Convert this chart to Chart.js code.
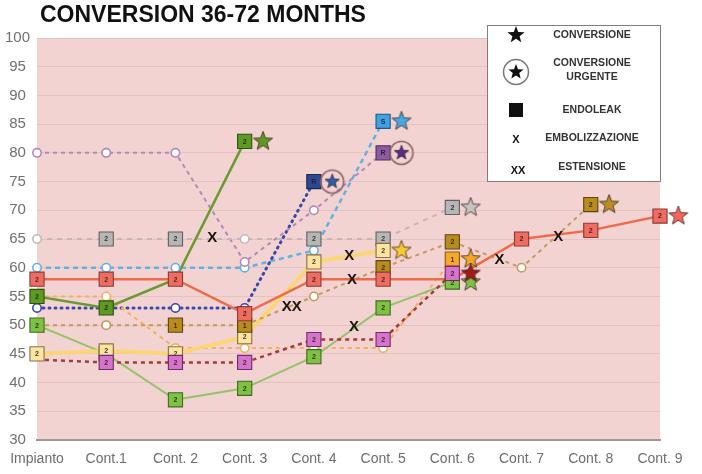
<!DOCTYPE html>
<html>
<head>
<meta charset="utf-8">
<script src="https://cdn.jsdelivr.net/npm/chart.js@4/dist/chart.umd.min.js"></script>
<style>
  html, body { margin: 0; padding: 0; background: #fff; }
  #wrap { position: relative; width: 702px; height: 474px; }
  #title { position: absolute; left: 40px; top: 3px; margin: 0; font: bold 23px "Liberation Sans", Arial, sans-serif; line-height: 23px; color: #111; }
  canvas { position: absolute; left: 0; top: 0; }
</style>
</head>
<body>
<div id="wrap">
  <canvas id="chart" width="702" height="474"></canvas>
  <h1 id="title">CONVERSION 36-72 MONTHS</h1>
</div>
<script>
// ---------------- data ----------------
const categories = ['Impianto', 'Cont.1', 'Cont. 2', 'Cont. 3', 'Cont. 4', 'Cont. 5', 'Cont. 6', 'Cont. 7', 'Cont. 8', 'Cont. 9'];
const yMin = 30, yMax = 100, yStep = 5;

// one array per patient, one value per control (marks: label in the square, 'o' = open circle, null = nothing)
const redValues    = [58, 58, 58, 52, 58, 58, 58, 65, 66.5, 69];
const redMarks     = ['2', '2', '2', '2', '2', '2', null, '2', '2', '2'];
const greenValues  = [55, 53, 58, 82];
const greenMarks   = ['2', '2', null, '2'];
const limeValues   = [50, 45, 37, 39, 44.5, 53, 57.5];
const limeMarks    = ['2', '2', '2', '2', '2', '2', '2'];
const purpleValues = [80, 80, 80, 61, 70, 80];
const purpleMarks  = ['o', 'o', 'o', 'o', 'o', 'R'];
const navyValues   = [53, 53, 53, 53, 75];
const navyMarks    = ['o', 'o', 'o', 'o', 'R'];
const skyValues    = [60, 60, 60, 60, 63, 85.5];
const skyMarks     = ['o', 'o', 'o', 'o', 'o', 'S'];
const greyValues   = [65, 65, 65, 65, 65, 65, 70.5];
const greyMarks    = ['o', '2', '2', 'o', '2', '2', '2'];
const yellowValues = [45, 45.5, 45, 48, 61, 63];
const yellowMarks  = ['2', '2', '2', '2', '2', '2'];
const brownValues  = [50, 50, 50, 50, 55, 60, 64.5, 60, 71];
const brownMarks   = [null, 'o', '1', '1', 'o', '2', '2', 'o', '2'];
const orangeValues = [55, 55, 46, 46, 46, 46, 61.5];
const orangeMarks  = [null, 'o', 'o', 'o', 'o', 'o', '1'];
const maroonValues = [44, 43.5, 43.5, 43.5, 47.5, 47.5, 59];
const maroonMarks  = [null, '2', '2', '2', '2', '2', '2'];

// conversion happens after the last control; urgent ones get a ring
const urgentConversions = ['purple', 'navy'];

// events between controls: [x in controls, value]
const embolizations = [[2.53, 65.2], [4.51, 62.1], [4.55, 57.9], [4.58, 49.7], [6.68, 61.4], [7.53, 65.4]];
const extensions    = [[3.68, 53.2]];

// ---------------- styles ----------------
const STAR_SHIFT = 0.265;
const styles = {
  maroon: { line: '#a43a3a', width: 2.5, dash: [4, 4], fill: '#d673cc', edge: '#6e2c68', star: '#a01a1a' },
  red:    { line: '#f06a4a', width: 2.5, dash: [],     fill: '#ef6c62', edge: '#8c3a32', star: '#f2665e' },
  brown:  { line: '#c49a5e', width: 2,   dash: [4, 4], fill: '#b88c1c', edge: '#5a4410', star: '#b88e22' },
  yellow: { line: '#fad676', width: 4,   dash: [],     fill: '#fbe3a2', edge: '#8a7040', star: '#f6cc30' },
  lime:   { line: '#92c466', width: 2,   dash: [],     fill: '#7ec244', edge: '#3e6a20', star: '#7ec244' },
  green:  { line: '#6a9a30', width: 2.5, dash: [],     fill: '#5c9a22', edge: '#2e5010', star: '#5c9a22' },
  grey:   { line: '#c8b6b6', width: 2,   dash: [5, 5], fill: '#b6b6b6', edge: '#606060', star: '#c4c4c4' },
  orange: { line: '#f4b060', width: 2,   dash: [4, 4], fill: '#f6a82a', edge: '#8a5a10', star: '#f6a624' },
  purple: { line: '#b08ab8', width: 2,   dash: [4, 4], fill: '#8a5aa2', edge: '#4e2e60', star: '#5a2a8e' },
  navy:   { line: '#3a48a8', width: 3,   dash: [1, 5], fill: '#2a4a98', edge: '#18284e', star: '#2a5cb4' },
  sky:    { line: '#62b2e2', width: 2.5, dash: [5, 4], fill: '#40a2e2', edge: '#205a80', star: '#46aae2' }
};

const series = [
  ['maroon', maroonValues, maroonMarks],
  ['red', redValues, redMarks],
  ['brown', brownValues, brownMarks],
  ['yellow', yellowValues, yellowMarks],
  ['lime', limeValues, limeMarks],
  ['green', greenValues, greenMarks],
  ['grey', greyValues, greyMarks],
  ['orange', orangeValues, orangeMarks],
  ['purple', purpleValues, purpleMarks],
  ['navy', navyValues, navyMarks],
  ['sky', skyValues, skyMarks]
];

function starPath(g, cx, cy, R, r) {
  g.beginPath();
  for (let i = 0; i < 10; i++) {
    const a = -Math.PI / 2 + i * Math.PI / 5;
    const rad = i % 2 ? r : R;
    g.lineTo(cx + rad * Math.cos(a), cy + rad * Math.sin(a));
  }
  g.closePath();
}

function starImage(fill, ring) {
  const size = 28;
  const c = document.createElement('canvas');
  c.width = c.height = size;
  const g = c.getContext('2d');
  const R = ring ? 7.5 : 10;
  starPath(g, size / 2, size / 2, R, R * 0.42);
  g.fillStyle = fill; g.fill();
  g.strokeStyle = 'rgba(60,40,30,0.8)'; g.lineWidth = 1; g.stroke();
  if (ring) {
    g.beginPath(); g.arc(size / 2, size / 2, 11.5, 0, Math.PI * 2);
    g.strokeStyle = '#8a6464'; g.lineWidth = 1.6; g.stroke();
  }
  return c;
}

const datasets = [];
series.forEach(([name, values, marks]) => {
  const st = styles[name];
  const pts = values.map((v, i) => ({ x: i, y: v }));
  // line
  datasets.push({
    data: pts, order: 3, borderColor: st.line, borderWidth: st.width, borderDash: st.dash,
    borderCapStyle: name === 'navy' ? 'round' : 'butt', pointRadius: 0, tension: 0, fill: false
  });
  // markers
  const idx = marks.map((m, i) => m ? i : -1).filter(i => i >= 0);
  datasets.push({
    data: idx.map(i => ({ x: i, y: values[i] })), order: 2, showLine: false, clip: false,
    marks: idx.map(i => marks[i]),
    pointStyle: idx.map(i => marks[i] === 'o' ? 'circle' : 'rect'),
    pointRadius: idx.map(i => marks[i] === 'o' ? 4.2 : 10),
    pointBackgroundColor: idx.map(i => marks[i] === 'o' ? '#fff' : st.fill),
    pointBorderColor: idx.map(i => marks[i] === 'o' ? st.line : st.edge),
    pointBorderWidth: idx.map(i => marks[i] === 'o' ? 1.6 : 1.1)
  });
  // conversion star
  const last = values.length - 1;
  datasets.push({
    data: [{ x: last + STAR_SHIFT, y: values[last] }], order: 1, showLine: false, clip: false,
    pointStyle: starImage(st.star, urgentConversions.includes(name)), pointRadius: 24
  });
});

// ---------------- plugins ----------------
const background = {
  id: 'background',
  beforeDraw(chart) {
    const { ctx, chartArea: a } = chart;
    ctx.save();
    ctx.fillStyle = '#f2d3d2';
    ctx.fillRect(a.left, a.top, a.right - a.left, a.bottom - a.top);
    ctx.restore();
  }
};

const squareLabels = {
  id: 'squareLabels',
  afterDatasetDraw(chart, args) {
    const ds = chart.data.datasets[args.index];
    if (!ds.marks) return;
    const ctx = chart.ctx;
    ctx.save();
    ctx.font = 'bold 7px "Liberation Sans", Arial, sans-serif';
    ctx.textAlign = 'center'; ctx.textBaseline = 'middle';
    ctx.fillStyle = 'rgba(40,25,20,0.85)';
    args.meta.data.forEach((p, i) => {
      if (ds.marks[i] !== 'o') ctx.fillText(ds.marks[i], p.x, p.y + 0.5);
    });
    ctx.restore();
  }
};

const eventMarks = {
  id: 'eventMarks',
  afterDatasetsDraw(chart) {
    const { ctx, scales: { x, y } } = chart;
    ctx.save();
    ctx.fillStyle = '#1a1410';
    ctx.font = 'bold 15px "Liberation Sans", Arial, sans-serif';
    ctx.textAlign = 'center'; ctx.textBaseline = 'middle';
    embolizations.forEach(([cx, v]) => ctx.fillText('X', x.getPixelForValue(cx), y.getPixelForValue(v)));
    extensions.forEach(([cx, v]) => ctx.fillText('XX', x.getPixelForValue(cx), y.getPixelForValue(v)));
    ctx.restore();
  }
};

const legendBox = {
  id: 'legendBox',
  afterDraw(chart) {
    const { ctx, chartArea: a } = chart;
    const left = a.right - 173, top = 25, w = 174, h = 157;
    ctx.save();
    ctx.fillStyle = '#fff';
    ctx.fillRect(left, top, w, h);
    ctx.strokeStyle = '#8a7a7a'; ctx.lineWidth = 1;
    ctx.strokeRect(left + 0.5, top + 0.5, w - 1, h - 1);
    const sx = left + 29, tx = left + 105;
    ctx.fillStyle = '#111';
    // conversione
    starPath(ctx, sx, top + 10, 9, 3.8); ctx.fill();
    // conversione urgente
    starPath(ctx, sx, top + 47, 8, 3.4); ctx.fill();
    ctx.beginPath(); ctx.arc(sx, top + 47, 12.5, 0, Math.PI * 2);
    ctx.strokeStyle = '#777'; ctx.lineWidth = 1.5; ctx.stroke();
    // endoleak
    ctx.fillRect(sx - 7, top + 78, 14, 14);
    ctx.font = 'bold 11px "Liberation Sans", Arial, sans-serif';
    ctx.textAlign = 'center'; ctx.textBaseline = 'middle';
    ctx.fillText('X', sx, top + 115);
    ctx.fillText('XX', sx + 2, top + 146);
    ctx.fillStyle = '#333';
    ctx.font = 'bold 10.5px "Liberation Sans", Arial, sans-serif';
    ctx.fillText('CONVERSIONE', tx, top + 10);
    ctx.fillText('CONVERSIONE', tx, top + 38);
    ctx.fillText('URGENTE', tx, top + 52);
    ctx.fillText('ENDOLEAK', tx, top + 85);
    ctx.fillText('EMBOLIZZAZIONE', tx, top + 113);
    ctx.fillText('ESTENSIONE', tx, top + 142);
    ctx.restore();
  }
};

// ---------------- chart ----------------
new Chart(document.getElementById('chart'), {
  type: 'line',
  data: { datasets },
  plugins: [background, squareLabels, eventMarks, legendBox],
  options: {
    responsive: false,
    animation: false,
    events: [],
    layout: { padding: { top: 38, right: 42, left: 0, bottom: 0 } },
    plugins: { legend: { display: false }, tooltip: { enabled: false } },
    scales: {
      x: {
        type: 'linear', min: 0, max: categories.length - 1,
        afterFit(s) { s.height = 34; },
        grid: { display: false },
        border: { display: true, color: '#a89292', width: 2 },
        ticks: {
          stepSize: 1, padding: 3, color: '#6e6e6e', maxRotation: 0, autoSkip: false,
          font: { family: '"Liberation Sans", Arial, sans-serif', size: 14 },
          callback: v => categories[v]
        }
      },
      y: {
        min: yMin, max: yMax,
        afterFit(s) { s.width = 37; },
        grid: { color: '#e4c2c2', lineWidth: 1, drawTicks: false },
        border: { display: false },
        ticks: {
          stepSize: yStep, padding: 7, color: '#707070', crossAlign: 'center',
          font: { family: '"Liberation Sans", Arial, sans-serif', size: 15 }
        }
      }
    }
  }
});
</script>
</body>
</html>
